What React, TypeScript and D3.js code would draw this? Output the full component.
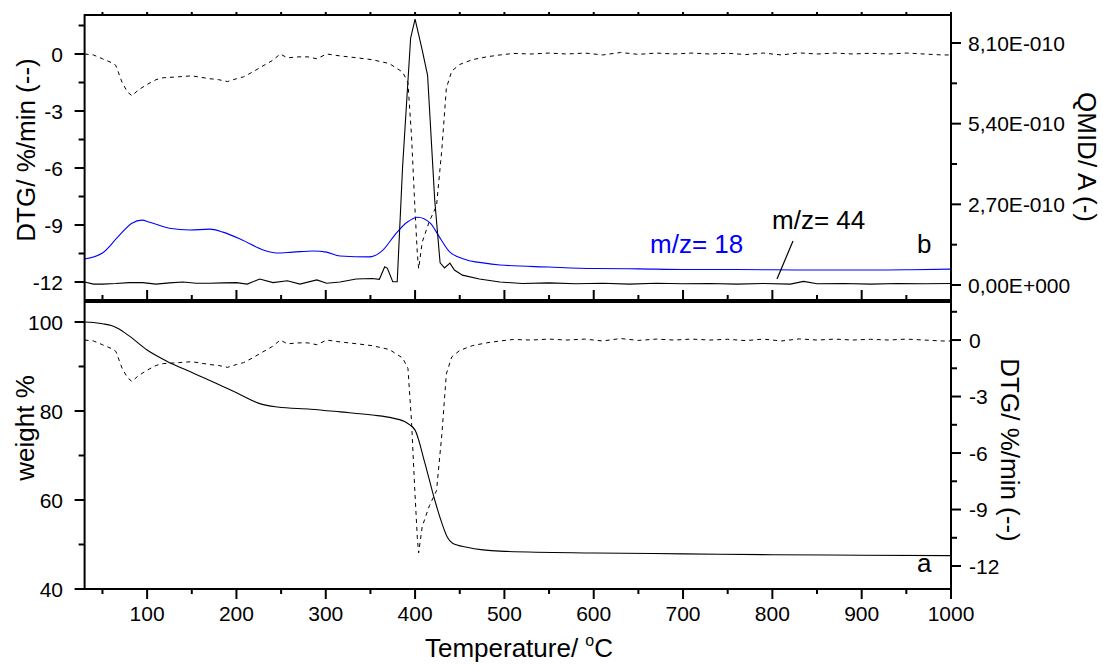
import React from 'react';
import * as d3 from 'd3';

const W = 1103;
const H = 666;
const FONT = 'Liberation Sans, Arial, Helvetica, sans-serif';

// DTG (%/min) — same curve in both panels
const dtgT = [30, 40, 50, 60, 65, 72, 78, 83, 90, 100, 110, 118, 135, 150, 170, 180, 190, 200, 208, 218, 227, 240, 249, 257, 270, 280, 290, 301, 316, 335, 352, 371, 386, 392, 396, 399.5, 402.5, 404, 408, 416, 424, 430, 435, 441, 450, 464, 480, 495, 510, 530, 550, 570, 590, 610, 630, 650, 670, 690, 710, 730, 750, 770, 790, 810, 830, 850, 870, 890, 910, 930, 950, 970, 990, 1000];
const dtgV = [0, -0.05, -0.25, -0.45, -0.6, -1.5, -2.0, -2.2, -1.9, -1.6, -1.35, -1.25, -1.2, -1.15, -1.3, -1.35, -1.45, -1.3, -1.2, -0.95, -0.7, -0.35, 0.0, -0.2, -0.15, -0.15, -0.25, 0.0, -0.1, -0.2, -0.3, -0.5, -0.95, -1.5, -4.3, -7.8, -10.5, -11.3, -9.9, -8.8, -8.0, -5.0, -1.8, -0.9, -0.55, -0.3, -0.15, -0.05, 0.03, 0.0, 0.05, 0.0, 0.05, -0.05, 0.08, -0.02, 0.05, 0.0, 0.05, 0.0, 0.04, -0.03, 0.05, -0.05, 0.06, 0.0, 0.05, 0.0, 0.04, 0.0, 0.05, 0.0, -0.05, -0.05];

// QMID m/z = 44 (units of 1E-10 A)
const ms44T = [30, 40, 50, 65, 80, 95, 110, 125, 140, 155, 170, 185, 200, 212, 226, 241, 257, 271, 290, 301, 316, 334, 352, 360, 366, 369, 375, 380, 386, 395, 400, 408, 414, 422, 428, 433, 439, 444, 453, 472, 495, 520, 550, 580, 610, 640, 670, 700, 730, 760, 790, 820, 835, 850, 880, 910, 940, 970, 1000];
const ms44V = [0.1, 0.03, 0.03, 0.05, 0.08, 0.08, 0.03, 0.07, 0.1, 0.06, 0.06, 0.07, 0.08, 0.03, 0.2, 0.08, 0.14, 0.03, 0.17, 0.06, 0.1, 0.2, 0.22, 0.19, 0.61, 0.56, 0.11, 0.11, 3.95, 8.26, 8.9, 7.86, 7.02, 2.84, 0.74, 0.57, 0.73, 0.5, 0.33, 0.2, 0.1, 0.05, 0.07, 0.04, 0.06, 0.03, 0.06, 0.04, 0.05, 0.03, 0.05, 0.03, 0.12, 0.04, 0.05, 0.03, 0.05, 0.04, 0.05];

// QMID m/z = 18 (units of 1E-10 A)
const ms18T = [30, 50, 67, 83, 94, 103, 125, 148, 170, 185, 207, 230, 245, 263, 286, 301, 316, 349, 364, 379, 391, 403, 417, 428, 439, 458, 476, 495, 550, 600, 650, 700, 750, 800, 850, 900, 950, 1000];
const ms18V = [0.87, 1.07, 1.6, 2.07, 2.17, 2.1, 1.9, 1.84, 1.87, 1.77, 1.5, 1.17, 1.07, 1.1, 1.14, 1.1, 0.97, 0.94, 1.17, 1.74, 2.1, 2.27, 2.07, 1.57, 1.1, 0.84, 0.74, 0.67, 0.6, 0.55, 0.54, 0.52, 0.52, 0.51, 0.5, 0.5, 0.51, 0.53];

// weight %
const wT = [30, 40, 50, 60, 67, 81, 100, 122, 152, 182, 205, 227, 246, 283, 316, 352, 375, 391, 400, 411, 422, 430, 436, 442, 458, 476, 495, 600, 700, 800, 900, 1000];
const wV = [100, 99.9, 99.6, 99.2, 98.6, 96.7, 93.7, 91.2, 88.5, 85.8, 83.6, 81.6, 80.9, 80.4, 79.8, 79.1, 78.4, 77.3, 75.7, 68.3, 60, 54.8, 51.7, 50.3, 49.4, 48.8, 48.5, 48.1, 47.9, 47.7, 47.6, 47.5];

const xMajor = [100, 200, 300, 400, 500, 600, 700, 800, 900, 1000];
const xMinor = [50, 150, 250, 350, 450, 550, 650, 750, 850, 950];
const dtgMajor = [0, -3, -6, -9, -12];
const dtgMinor = [1.5, -1.5, -4.5, -7.5, -10.5];
const qMajor = [0, 2.7, 5.4, 8.1];
const qLabels = ['0,00E+000', '2,70E-010', '5,40E-010', '8,10E-010'];
const qMinor = [1.35, 4.05, 6.75];
const wMajor = [40, 60, 80, 100];
const wMinor = [50, 70, 90];

const zip = (t: number[], v: number[]) => t.map((d, i) => [d, v[i]] as [number, number]);

export default function App() {
  const L = 84.6, R = 951;
  const T1 = 15, B1 = 300, T2 = 302, B2 = 589;
  const x = d3.scaleLinear().domain([30, 1000]).range([L, R]);
  const yDtgTop = d3.scaleLinear().domain([-12.947, 2.053]).range([B1, T1]);
  const yQ = d3.scaleLinear().domain([-0.502, 9.037]).range([B1, T1]);
  const yW = d3.scaleLinear().domain([40, 104.49]).range([B2, T2]);
  const yDtgBot = d3.scaleLinear().domain([-13.22, 2.02]).range([B2, T2]);

  const mk = (ys: d3.ScaleLinear<number, number>, curve: any) =>
    d3.line<[number, number]>().x(d => x(d[0])).y(d => ys(d[1])).curve(curve);

  const dtgData = zip(dtgT, dtgV);
  const pDtgTop = mk(yDtgTop, d3.curveLinear)(dtgData) || '';
  const pDtgBot = mk(yDtgBot, d3.curveLinear)(dtgData) || '';
  const p44 = mk(yQ, d3.curveLinear)(zip(ms44T, ms44V)) || '';
  const p18 = mk(yQ, d3.curveMonotoneX)(zip(ms18T, ms18V)) || '';
  const pW = mk(yW, d3.curveMonotoneX)(zip(wT, wV)) || '';

  const tickFs = 21;
  const titleFs = 26;

  return (
    <svg width={W} height={H} style={{ position: 'absolute', left: 0, top: 0, background: '#fff' }} fontFamily={FONT}>
      <rect x={0} y={0} width={W} height={H} fill="#fff" />
      <defs>
        <clipPath id="c1"><rect x={L} y={T1} width={R - L} height={B1 - T1} /></clipPath>
        <clipPath id="c2"><rect x={L} y={T2} width={R - L} height={B2 - T2} /></clipPath>
      </defs>

      {/* top panel curves */}
      <g clipPath="url(#c1)" fill="none">
        <path d={pDtgTop} stroke="#000" strokeWidth={1} strokeDasharray="4,4" />
        <path d={p18} stroke="#0000ff" strokeWidth={1.1} />
        <path d={p44} stroke="#000" strokeWidth={1.1} />
      </g>
      {/* bottom panel curves */}
      <g clipPath="url(#c2)" fill="none">
        <path d={pDtgBot} stroke="#000" strokeWidth={1} strokeDasharray="4,4" />
        <path d={pW} stroke="#000" strokeWidth={1.1} />
      </g>

      {/* frames */}
      <rect x={L} y={T1} width={R - L} height={B1 - T1} fill="none" stroke="#000" strokeWidth={2} />
      <rect x={L} y={T2} width={R - L} height={B2 - T2} fill="none" stroke="#000" strokeWidth={2} />

      {/* x ticks: bottom axis (outward), top panel bottom (inward), top edge */}
      <g stroke="#000" strokeWidth={2}>
        {xMajor.map(t => <line key={'xb' + t} x1={x(t)} x2={x(t)} y1={B2} y2={B2 + 10} />)}
        {xMinor.map(t => <line key={'xbm' + t} x1={x(t)} x2={x(t)} y1={B2} y2={B2 + 5} />)}
        {xMajor.map(t => <line key={'xt' + t} x1={x(t)} x2={x(t)} y1={B1} y2={B1 - 10} />)}
        {xMinor.map(t => <line key={'xtm' + t} x1={x(t)} x2={x(t)} y1={B1} y2={B1 - 5} />)}
        {xMajor.concat(xMinor).map(t => <line key={'xtt' + t} x1={x(t)} x2={x(t)} y1={T1} y2={T1 - 3} />)}
      </g>
      <g fontSize={tickFs} textAnchor="middle" fill="#000">
        {xMajor.map(t => <text key={'xl' + t} x={x(t)} y={621}>{t}</text>)}
      </g>

      {/* left top DTG axis */}
      <g stroke="#000" strokeWidth={2}>
        {dtgMajor.map(t => <line key={'lt' + t} x1={L} x2={L - 10} y1={yDtgTop(t)} y2={yDtgTop(t)} />)}
        {dtgMinor.map(t => <line key={'ltm' + t} x1={L} x2={L - 6} y1={yDtgTop(t)} y2={yDtgTop(t)} />)}
        {dtgMajor.map(t => <line key={'rb' + t} x1={R} x2={R + 10} y1={yDtgBot(t)} y2={yDtgBot(t)} />)}
        {dtgMinor.map(t => <line key={'rbm' + t} x1={R} x2={R + 6} y1={yDtgBot(t)} y2={yDtgBot(t)} />)}
        {qMajor.map(t => <line key={'rq' + t} x1={R} x2={R + 10} y1={yQ(t)} y2={yQ(t)} />)}
        {qMinor.map(t => <line key={'rqm' + t} x1={R} x2={R + 6} y1={yQ(t)} y2={yQ(t)} />)}
        {wMajor.map(t => <line key={'lw' + t} x1={L} x2={L - 10} y1={yW(t)} y2={yW(t)} />)}
        {wMinor.map(t => <line key={'lwm' + t} x1={L} x2={L - 6} y1={yW(t)} y2={yW(t)} />)}
      </g>
      <g fontSize={tickFs} fill="#000">
        {dtgMajor.map(t => <text key={'ltl' + t} x={63} y={yDtgTop(t)} dy="0.36em" textAnchor="end">{t}</text>)}
        {wMajor.map(t => <text key={'lwl' + t} x={63} y={yW(t)} dy="0.36em" textAnchor="end">{t}</text>)}
        {dtgMajor.map(t => <text key={'rbl' + t} x={969} y={yDtgBot(t)} dy="0.36em" textAnchor="start">{t}</text>)}
        {qMajor.map((t, i) => <text key={'rql' + t} x={968} y={yQ(t)} dy="0.36em" textAnchor="start">{qLabels[i]}</text>)}
      </g>

      {/* axis titles */}
      <g fontSize={titleFs} fill="#000" textAnchor="middle">
        <text transform="translate(26,150) rotate(-90)" dy="0.36em">DTG/ %/min (--)</text>
        <text transform="translate(25,428) rotate(-90)" dy="0.36em">weight %</text>
        <text transform="translate(1087,157) rotate(90)" dy="0.36em">QMID/ A (-)</text>
        <text transform="translate(1010,450) rotate(90)" dy="0.36em">DTG/ %/min (--)</text>
        <text x={519} y={657}>Temperature/ <tspan dy={-11} fontSize={16}>o</tspan><tspan dy={11}>C</tspan></text>
      </g>

      {/* annotations */}
      <g fontSize={titleFs}>
        <text x={650} y={253} fill="#0000ff">m/z= 18</text>
        <text x={772} y={229} fill="#000">m/z= 44</text>
        <text x={917} y={253} fill="#000">b</text>
        <text x={917} y={572} fill="#000">a</text>
      </g>
      <line x1={793} y1={241} x2={777} y2={279} stroke="#000" strokeWidth={1.2} />
    </svg>
  );
}
